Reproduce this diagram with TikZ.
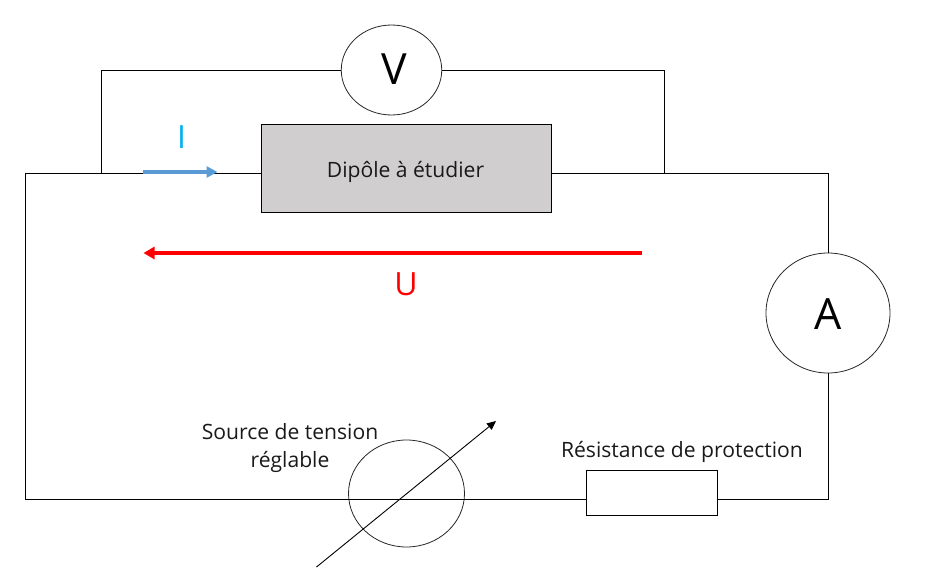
\documentclass[tikz,border=0pt]{standalone}
\usepackage{fontspec}
\setmainfont{Open Sans}
\usetikzlibrary{arrows.meta,shapes.geometric}
\definecolor{boxgray}{HTML}{D0CECE}
\definecolor{cyanI}{HTML}{00B0F0}
\definecolor{blueA}{HTML}{5B9BD5}
\tikzset{
  wire/.style={draw=black,line width=1pt},
  meter/.style={draw=black!85,line width=0.8pt,ellipse,inner sep=0pt,minimum width=#1},
  rectbox/.style={draw=black,line width=1pt,rectangle,inner sep=0pt},
  lbl/.style={inner sep=0pt,font=\fontsize{21.1}{28}\selectfont,text=black!90,align=center},
  big/.style={inner sep=0pt,font=\fontsize{43}{43}\selectfont},
  sym/.style={inner sep=0pt,font=\fontsize{32}{32}\selectfont}
}
\begin{document}
\begin{tikzpicture}[x=1pt,y=-1pt]
\useasboundingbox (0,0) rectangle (932,570);
% components
\node[rectbox,fill=boxgray,minimum width=290.5pt,minimum height=88pt] (dut) at (406.3,168) {};
\node[lbl] (dutlabel) at (405.5,171.5) {Dipôle à étudier};
\node[rectbox,minimum width=131.5pt,minimum height=44.5pt] (res) at (651.8,493.2) {};
\node[meter=100.5pt,minimum height=90pt] (vm) at (391.5,70) {};
\node[big] (vtext) at (394,69) {V};
\node[meter=124pt,minimum height=120pt] (am) at (828,313) {};
\node[big] (atext) at (828,314) {A};
\node[meter=116pt,minimum height=107pt] (src) at (406.5,493.5) {};
% wire junctions
\coordinate (tl) at (25,173.3);
\coordinate (bl) at (25,499.3);
\coordinate (tr) at (828,173.3);
\coordinate (br) at (828,499.3);
\coordinate (dutw) at (261,173.3);
\coordinate (dute) at (551.6,173.3);
\coordinate (resw) at (586,499.3);
\coordinate (rese) at (717.6,499.3);
\coordinate (jl) at (101.7,173.3);
\coordinate (jr) at (664,173.3);
\coordinate (vl) at (101.7,70.3);
\coordinate (vr) at (664,70.3);
% circuit
\draw[wire] (dutw) -- (tl) -- (bl) -- (resw);
\draw[wire] (dute) -- (tr) -- (am.north);
\draw[wire] (am.south) -- (br) -- (rese);
\draw[wire] (jl) -- (vl) -- (vl -| vm.west);
\draw[wire] (jr) -- (vr) -- (vr -| vm.east);
% adjustable arrow
\coordinate (as) at (316.5,567);
\coordinate (ae) at (496,421);
\draw[line width=0.9pt,-{Triangle[length=9pt,width=8pt]}] (as) -- (ae);
% labels
\node[lbl] (srclabel) at (290,448) {Source de tension\\réglable};
\node[lbl] (reslabel) at (682,452) {Résistance de protection};
% current and voltage arrows
\coordinate (is) at (143,172);
\coordinate (ie) at (217.5,172);
\draw[draw=blueA,line width=3.6pt,-{Triangle[length=11pt,width=11pt]}] (is) -- (ie);
\node[sym,text=cyanI] (ilabel) at (181.5,137) {I};
\coordinate (us) at (641.5,253);
\coordinate (ue) at (143.5,253);
\draw[draw=red,line width=3.8pt,-{Triangle[length=11pt,width=12pt]}] (us) -- (ue);
\node[sym,text=red] (ulabel) at (406,284) {U};
\end{tikzpicture}
\end{document}
